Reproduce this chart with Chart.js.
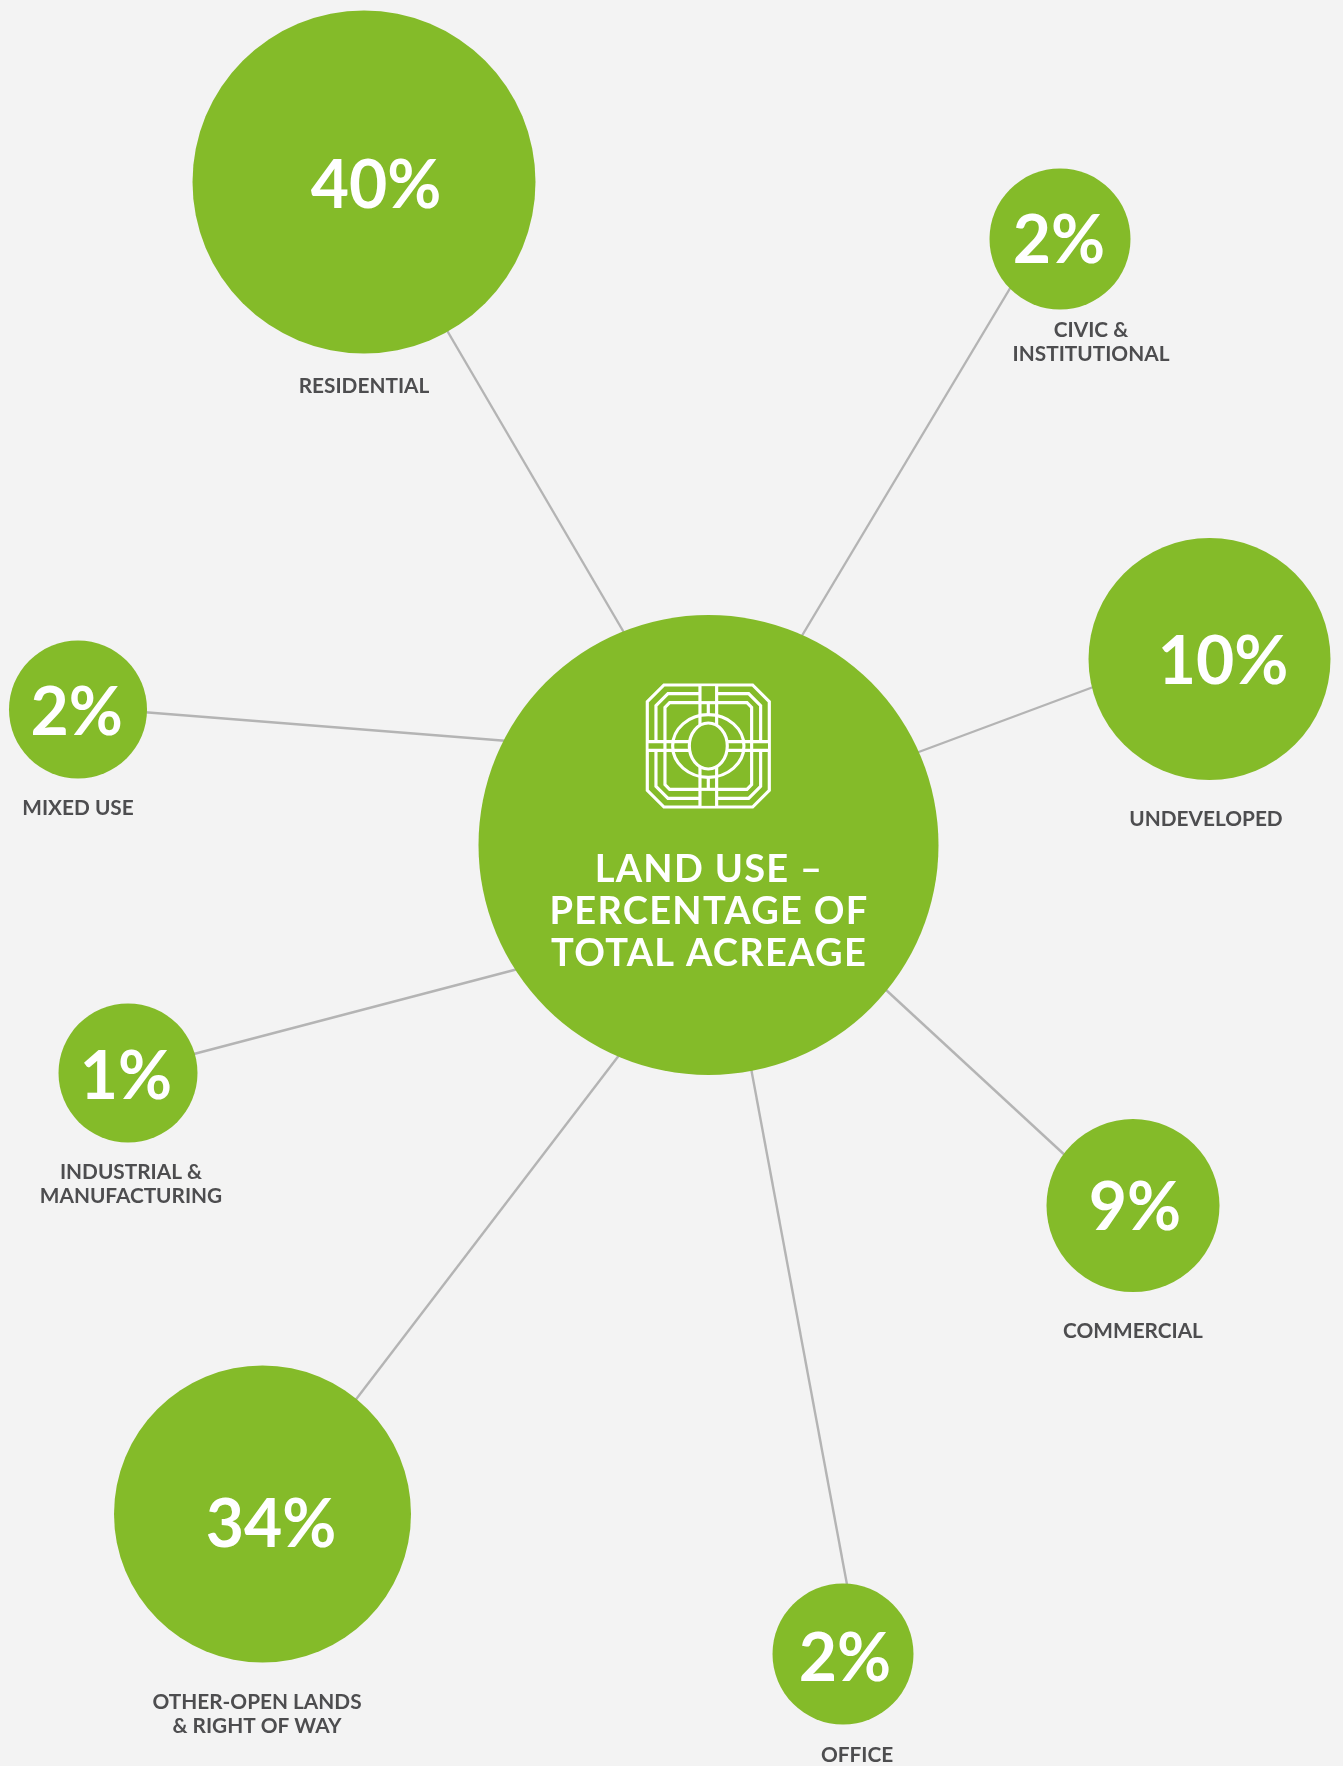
<!DOCTYPE html>
<html><head><meta charset="utf-8">
<style>html,body{margin:0;padding:0;background:#f3f3f3}canvas{display:block}</style>
<script src="https://cdn.jsdelivr.net/npm/chart.js@4"></script>
</head><body><canvas id="c" width="1343" height="1766"></canvas>
<script>
const categories = [["RESIDENTIAL"],["CIVIC &","INSTITUTIONAL"],["UNDEVELOPED"],["COMMERCIAL"],["OFFICE"],["OTHER-OPEN LANDS","& RIGHT OF WAY"],["INDUSTRIAL &","MANUFACTURING"],["MIXED USE"]];
const percentages = [40,2,10,9,2,34,1,2];
const nodeX = [364,1060,1209.5,1133,843,262.5,128,78];
const nodeY = [182,239,659,1205.6,1654,1514,1073,709.5];
const nodeR = [171.5,70.5,121,86.5,70.5,148.5,69.5,69];
const valueX = [376,1059,1223,1135,845,271,126,76.6];
const valueY = [208,262.5,684,1230,1681,1547,1098.7,734.6];
const labelX = [364,1091,1206,1133,857,257,131,78];
const labelY = [393,337,825.5,1338,1762,1709,1179,814.5];
const spokeOuterX = [445,1012,1096,1068,848,354,190,142];
const spokeOuterY = [327,285,686,1158,1590,1402,1055,712];
const spokeInnerX = [626,800,916,885,751,620,518,508];
const spokeInnerY = [636,639,753,989,1068,1054,969,741];
const hubX = [708.5], hubY = [845], hubR = [230];
const hubTitle = ["LAND USE –","PERCENTAGE OF","TOTAL ACREAGE"];
const hubTitleY = [881.7,924,966];

const GREEN='#84bb29', GREY='#4d4d4f';
const FONT='Lato, "Open Sans", sans-serif';

const spokes = categories.map((c,i)=>({
  type:'scatter', showLine:true, order:2, clip:false,
  data:[{x:spokeOuterX[i],y:spokeOuterY[i]},{x:spokeInnerX[i],y:spokeInnerY[i]}],
  borderColor:'#b4b4b4', borderWidth:2.4, pointRadius:0, pointHoverRadius:0, fill:false
}));
const nodes = {
  type:'bubble', order:1, clip:false,
  data:nodeX.map((x,i)=>({x,y:nodeY[i],r:nodeR[i]})),
  backgroundColor:GREEN, borderWidth:0, hoverRadius:0
};
const hub = {
  type:'bubble', order:0, clip:false,
  data:hubX.map((x,i)=>({x,y:hubY[i],r:hubR[i]})),
  backgroundColor:GREEN, borderWidth:0, hoverRadius:0
};

function drawIcon(ctx,cx,cy){
  // emblem, drawn in units of a 3x grid around its centre
  ctx.save();
  ctx.translate(cx,cy); ctx.scale(1/3,1/3);
  ctx.strokeStyle='#fff'; ctx.lineWidth=9.5; ctx.lineJoin='miter';
  const oct=(h,c)=>{ctx.beginPath();ctx.moveTo(-h+c,-h);ctx.lineTo(h-c,-h);ctx.lineTo(h,-h+c);ctx.lineTo(h,h-c);ctx.lineTo(h-c,h);ctx.lineTo(-h+c,h);ctx.lineTo(-h,h-c);ctx.lineTo(-h,-h+c);ctx.closePath();ctx.stroke();};
  oct(183,50); oct(157,36); oct(130,14);
  ctx.fillStyle=GREEN;
  ctx.fillRect(-25,-179,50,358);
  ctx.fillRect(-179,-13,358,26);
  const seg=(a,b,c,d)=>{ctx.beginPath();ctx.moveTo(a,b);ctx.lineTo(c,d);ctx.stroke();};
  ctx.beginPath();ctx.ellipse(0,0,107,94,0,0,Math.PI*2);ctx.fillStyle=GREEN;ctx.fill();ctx.stroke();
  for(const s of [-1,1]){
    seg(-25,s*185,-25,s*62); seg(25,s*185,25,s*62);
    seg(-25,s*130,25,s*130); seg(0,s*130,0,s*92);
    seg(s*183,-13,s*54,-13); seg(s*183,13,s*54,13);
    seg(s*130,-13,s*130,13);
  }
  ctx.beginPath();ctx.ellipse(0,0,57,69,0,0,Math.PI*2);ctx.fillStyle=GREEN;ctx.fill();ctx.stroke();
  ctx.restore();
}

const textPlugin = {
  id:'nodeText',
  afterDatasetsDraw(chart){
    const {ctx,scales:{x,y}}=chart;
    ctx.save();
    ctx.textAlign='center'; ctx.textBaseline='alphabetic';
    ctx.fillStyle='#fff';
    ctx.font='700 66px '+FONT;
    percentages.forEach((p,i)=>ctx.fillText(p+'%',x.getPixelForValue(valueX[i]),y.getPixelForValue(valueY[i])));
    ctx.font='700 20.8px '+FONT;
    ctx.fillStyle=GREY;
    categories.forEach((lines,i)=>lines.forEach((t,k)=>ctx.fillText(t,x.getPixelForValue(labelX[i]),y.getPixelForValue(labelY[i]+k*24))));
    ctx.fillStyle='#fff';
    ctx.font='700 38px '+FONT;
    ctx.letterSpacing='1.3px';
    hubTitle.forEach((t,i)=>ctx.fillText(t,x.getPixelForValue(709),y.getPixelForValue(hubTitleY[i])));
    ctx.letterSpacing='0px';
    ctx.restore();
    drawIcon(ctx,x.getPixelForValue(708.3),y.getPixelForValue(746));
  }
};

new Chart(document.getElementById('c'),{
  type:'bubble',
  data:{datasets:[...spokes,nodes,hub]},
  options:{
    responsive:false, animation:false, events:[],
    layout:{padding:0,autoPadding:false},
    plugins:{legend:{display:false},tooltip:{enabled:false}},
    scales:{
      x:{type:'linear',display:false,min:0,max:1343},
      y:{type:'linear',display:false,min:0,max:1766,reverse:true}
    }
  },
  plugins:[textPlugin]
});
</script></body></html>
